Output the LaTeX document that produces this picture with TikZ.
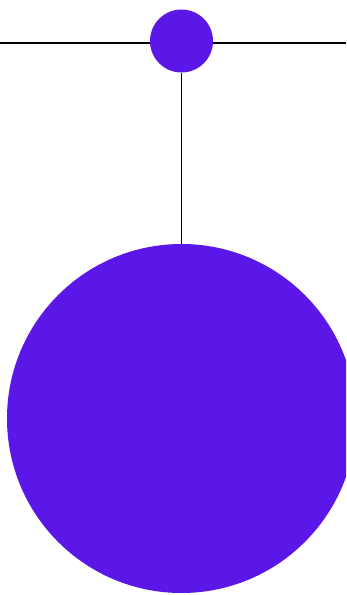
\documentclass[tikz,border=0pt]{standalone}
\usepackage{tikz}
\definecolor{violet}{HTML}{5B16E8}
\begin{document}
\begin{tikzpicture}[x=1pt,y=-1pt,
  ball/.style={circle,fill=violet,draw=none,inner sep=0pt},
  wire/.style={draw=black,line width=1.5pt}]
\useasboundingbox (0,0) rectangle (346,595);
\clip (0,0) rectangle (346,595);
\coordinate (L) at (0,43);
\coordinate (R) at (346,43);
\draw[wire] (L) -- (R);
\node[ball,minimum size=63pt] (small) at (181.5,41) {};
\node[ball,minimum size=349pt] (big) at (181.5,418.5) {};
\draw[wire] (small.south) -- (big.north);
\end{tikzpicture}
\end{document}
